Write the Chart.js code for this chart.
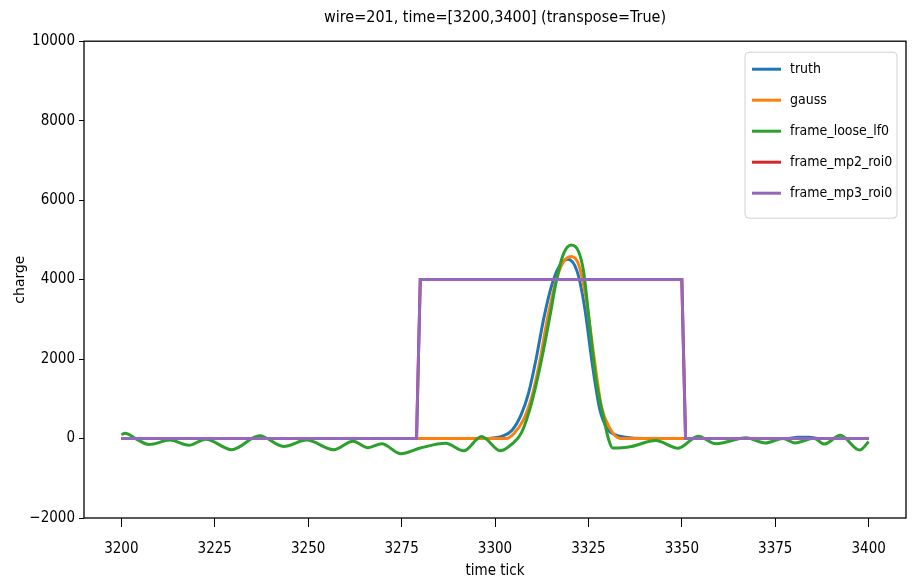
<!DOCTYPE html>
<html>
<head>
<meta charset="utf-8">
<script src="https://cdn.jsdelivr.net/npm/chart.js@4.4.1/dist/chart.umd.min.js"></script>
<style>
  body { margin: 0; background: #fff; }
  canvas { display: block; }
</style>
</head>
<body>
<canvas id="plot" width="915" height="582"></canvas>
<script>
// tick labels
var xTicks = [3200, 3225, 3250, 3275, 3300, 3325, 3350, 3375, 3400];
var yTicks = [-2000, 0, 2000, 4000, 6000, 8000, 10000];

// truth
var truthT = [3200, 3296, 3299, 3302, 3304.5, 3307, 3309, 3311, 3313, 3315, 3317, 3319.5, 3322, 3324, 3326, 3328, 3330, 3332, 3335, 3340, 3378, 3381, 3384, 3387, 3400];
var truthQ = [0, 0, 10, 60, 200, 600, 1150, 2000, 3000, 3800, 4300, 4510, 4200, 3300, 1900, 750, 250, 100, 30, 0, 0, 30, 30, 0, 0];

// gauss
var gaussT = [3200, 3303, 3305, 3307.5, 3310, 3312, 3314, 3316, 3318, 3320.5, 3322.5, 3324.5, 3326.5, 3328.5, 3330.5, 3333.5, 3400];
var gaussQ = [0, 0, 120, 450, 1100, 1950, 3000, 3850, 4400, 4580, 4350, 3450, 2050, 800, 300, 0, 0];

// frame_loose_lf0
var looseT = [3200, 3201, 3203.8, 3207.4, 3213, 3218, 3222.6, 3229.5, 3237, 3243.4, 3249.6, 3256.8, 3262, 3266, 3269.7, 3274.7, 3280, 3286.8, 3291.6, 3296.4, 3301.5, 3304.4, 3307.1, 3309.8, 3312.5, 3314.8, 3316.4, 3318.3, 3320.4, 3322.3, 3323.7, 3325.5, 3327.1, 3329, 3330.5, 3331.5, 3334, 3336.5, 3343, 3349, 3354.4, 3359.1, 3367.2, 3372.3, 3377.1, 3380.3, 3385.4, 3388.1, 3392.4, 3397.6, 3400];
var looseQ = [100, 130, 0, -150, -40, -170, -15, -280, 70, -200, -40, -280, -70, -230, -130, -380, -240, -120, -310, 50, -310, -150, 150, 900, 2000, 3130, 3960, 4640, 4870, 4720, 4210, 2700, 1440, 555, -50, -240, -230, -200, -50, -245, 60, -130, 20, -110, 0, -110, 10, -140, 80, -290, -80];

// frame_mp2_roi0 and frame_mp3_roi0 (same box)
var mp2T = [3200, 3279, 3280, 3350, 3351, 3400];
var mp2Q = [0, 0, 4000, 4000, 0, 0];
var mp3T = [3200, 3279, 3280, 3350, 3351, 3400];
var mp3Q = [0, 0, 4000, 4000, 0, 0];

var narrow = "'DejaVu Sans Condensed', 'Liberation Sans Narrow', 'DejaVu Sans', sans-serif";

function pairs(xs, ys) {
    return xs.map(function (x, i) { return {x: x, y: ys[i]}; });
}

function series(label, xs, ys, color, order, smooth) {
    return {
        label: label,
        data: pairs(xs, ys),
        borderColor: color,
        backgroundColor: color,
        borderWidth: 3,
        pointRadius: 0,
        fill: false,
        order: order,
        cubicInterpolationMode: smooth ? 'monotone' : 'default',
        tension: 0
    };
}

// box round the plot + matplotlib style legend inside it
var framePlugin = {
    id: 'frame',
    afterDraw: function (chart) {
        var ctx = chart.ctx, a = chart.chartArea;
        ctx.save();
        ctx.strokeStyle = '#000';
        ctx.lineWidth = 1.3;
        ctx.strokeRect(a.left, a.top, a.right - a.left, a.bottom - a.top);

        var w = 152, h = 166, x = a.right - w - 9, y = a.top + 11;
        ctx.fillStyle = 'rgba(255,255,255,0.85)';
        ctx.strokeStyle = '#d0d0d0';
        ctx.lineWidth = 1;
        ctx.beginPath();
        ctx.roundRect(x, y, w, h, 4);
        ctx.fill();
        ctx.stroke();

        ctx.font = '14px ' + narrow;
        ctx.textBaseline = 'middle';
        chart.data.datasets.forEach(function (ds, i) {
            var cy = y + 17 + i * 31;
            ctx.strokeStyle = ds.borderColor;
            ctx.lineWidth = 3;
            ctx.beginPath();
            ctx.moveTo(x + 7, cy);
            ctx.lineTo(x + 36, cy);
            ctx.stroke();
            ctx.fillStyle = '#000';
            ctx.fillText(ds.label, x + 45, cy);
        });
        ctx.restore();
    }
};

var ctx = document.getElementById('plot').getContext('2d');
var chart = new Chart(ctx, {
    type: 'line',
    data: {
        datasets: [
            series('truth', truthT, truthQ, '#1f77b4', 5, true),
            series('gauss', gaussT, gaussQ, '#ff7f0e', 4, true),
            series('frame_loose_lf0', looseT, looseQ, '#2ca02c', 3, true),
            series('frame_mp2_roi0', mp2T, mp2Q, '#d62728', 2, false),
            series('frame_mp3_roi0', mp3T, mp3Q, '#9467bd', 1, false)
        ]
    },
    options: {
        responsive: false,
        animation: false,
        layout: { padding: { left: 0, right: 9, top: 0, bottom: 0 } },
        plugins: {
            legend: { display: false },
            tooltip: { enabled: false },
            title: {
                display: true,
                fullSize: false,
                text: 'wire=201, time=[3200,3400] (transpose=True)',
                color: '#000',
                font: { family: narrow, size: 16, weight: 'normal' },
                padding: { top: 8, bottom: 14 }
            }
        },
        scales: {
            x: {
                type: 'linear',
                min: 3190,
                max: 3410,
                afterBuildTicks: function (s) { s.ticks = xTicks.map(function (v) { return {value: v}; }); },
                afterFit: function (s) { s.height = 64; },
                border: { display: false },
                grid: { drawOnChartArea: false, drawTicks: true, tickLength: 9, color: '#000', tickWidth: 1 },
                ticks: {
                    color: '#000', padding: 13, maxRotation: 0, font: { family: narrow, size: 15 },
                    callback: function (v) { return String(v); }
                },
                title: { display: true, text: 'time tick', color: '#000', padding: { top: 0, bottom: 2 }, font: { family: narrow, size: 15 } }
            },
            y: {
                min: -2000,
                max: 10000,
                afterBuildTicks: function (s) { s.ticks = yTicks.map(function (v) { return {value: v}; }); },
                afterFit: function (s) { s.width = 84; },
                border: { display: false },
                grid: { drawOnChartArea: false, drawTicks: true, tickLength: 5, color: '#000', tickWidth: 1 },
                ticks: {
                    color: '#000', padding: 4, font: { family: narrow, size: 15 },
                    callback: function (v) { return v < 0 ? '\u2212' + Math.abs(v) : String(v); }
                },
                title: { display: true, text: 'charge', color: '#000', padding: { top: 12, bottom: 0 }, font: { family: "'DejaVu Sans', sans-serif", size: 14 } }
            }
        }
    },
    plugins: [framePlugin]
});
</script>
</body>
</html>
